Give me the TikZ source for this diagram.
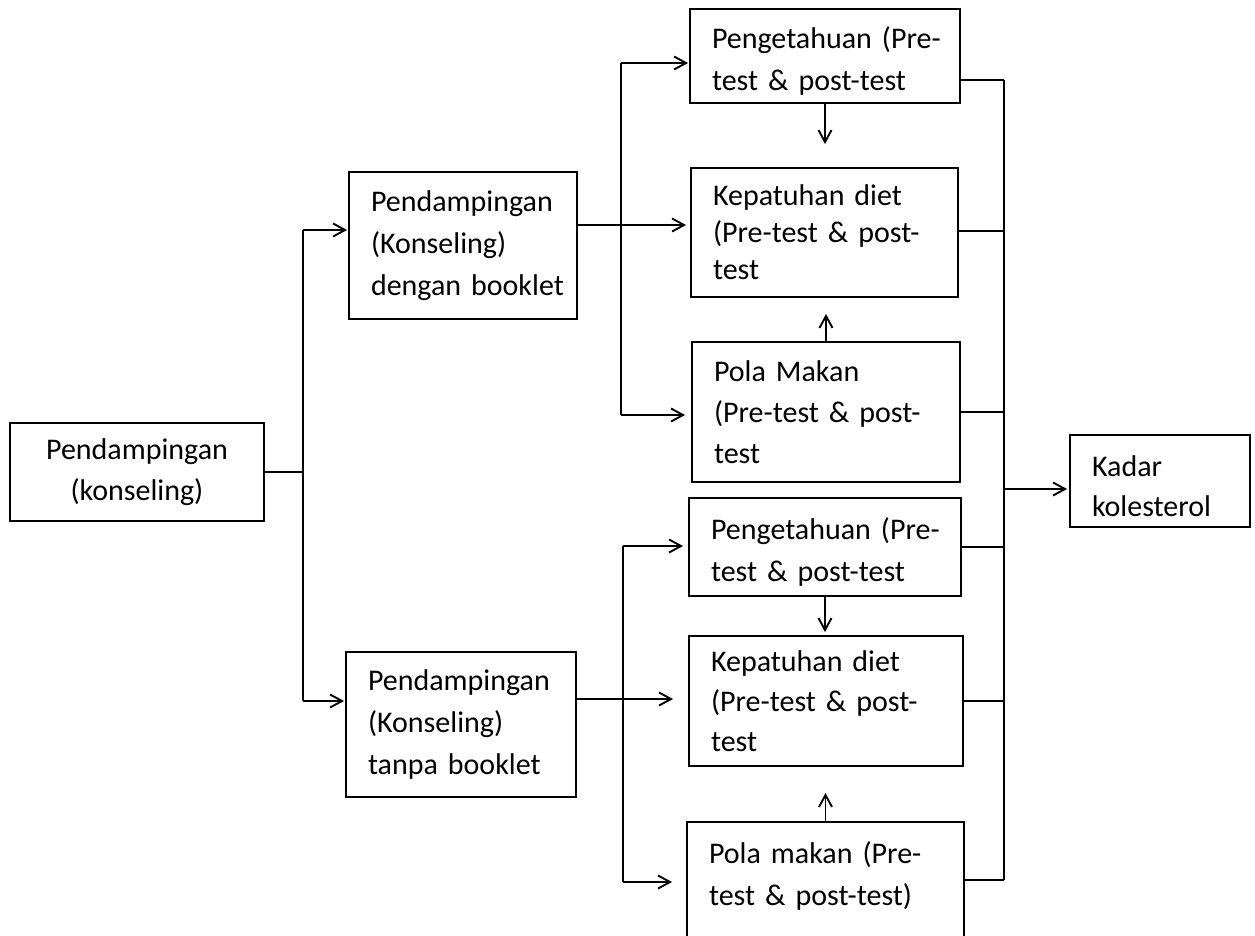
\documentclass[tikz,border=0pt]{standalone}
\usepackage{fontspec}
\setmainfont{Carlito}[WordSpace=0.75]
\usetikzlibrary{arrows.meta}
\newcommand{\topstrut}{\rule{0pt}{32pt}}
\begin{document}
\begin{tikzpicture}[x=1pt,y=-1pt,
  box/.style={draw,line width=1.9pt,inner ysep=0pt,inner xsep=22pt,align=left,
    font=\fontsize{30}{41}\selectfont},
  ln/.style={line width=1.9pt},
  arr/.style={line width=1.9pt,-{Straight Barb[length=12pt,width=13pt,line width=1.9pt]}}]
\useasboundingbox (0,0) rectangle (1255,935);
\clip (0,0) rectangle (1255,935);
% boxes
\node[box,align=center,inner xsep=0pt,text width=254pt,minimum height=98pt] (A) at (137,472) {Pendampingan\\(konseling)};
\node[box,text width=184pt,minimum height=147pt,font=\fontsize{30}{42}\selectfont] (B) at (463,245.5) {\mbox{Pendampingan}\\\mbox{(Konseling)}\\\mbox{dengan booklet}};
\node[box,text width=186pt,minimum height=145pt,font=\fontsize{30}{42}\selectfont] (B2) at (461,724.5) {\mbox{Pendampingan}\\\mbox{(Konseling)}\\\mbox{tanpa booklet}};
\node[box,text width=226pt,minimum height=94pt,font=\fontsize{30}{42}\selectfont] (P1) at (825,56) {\topstrut\mbox{Pengetahuan (Pre-}\\\mbox{test \& post-test}};
\node[box,text width=223pt,minimum height=129pt,font=\fontsize{30}{37}\selectfont] (K1) at (824.5,232.5) {\mbox{Kepatuhan diet}\\\mbox{(Pre-test \& post-}\\\mbox{test}};
\node[box,text width=224pt,minimum height=140pt] (L1) at (826,412) {\mbox{Pola Makan}\\\mbox{(Pre-test \& post-}\\\mbox{test}};
\node[box,text width=228pt,minimum height=98pt,font=\fontsize{30}{42}\selectfont] (P2) at (825,547) {\topstrut\mbox{Pengetahuan (Pre-}\\\mbox{test \& post-test}};
\node[box,text width=230pt,minimum height=130pt,font=\fontsize{30}{40}\selectfont] (K2) at (826,701) {\mbox{Kepatuhan diet}\\\mbox{(Pre-test \& post-}\\\mbox{test}};
\node[box,text width=233pt,minimum height=146pt,font=\fontsize{30}{42}\selectfont] (L2) at (825.5,895) {\mbox{Pola makan (Pre-}\\\mbox{test \& post-test)}\\\mbox{}};
\node[box,text width=136pt,minimum height=92pt,font=\fontsize{30}{40}\selectfont] (KD) at (1160,481) {\topstrut\mbox{Kadar}\\\mbox{kolesterol}};
% left junction
\coordinate (jA) at (303,472);
\coordinate (jAt) at (303,230);
\coordinate (jAb) at (303,701);
\draw[ln] (A.east) -- (jA);
\draw[ln] (jAt) -- (jAb);
\draw[arr,shorten >=1pt] (jAt) -- (jAt -| B.west);
\draw[arr,shorten >=1pt] (jAb) -- (jAb -| B2.west);
% upper branch
\coordinate (bOut) at (577,225);
\coordinate (bT) at (621,63);
\coordinate (bB) at (621,415);
\draw[arr,shorten >=4pt] (bOut) -- (bOut -| K1.west);
\draw[ln] (bT) -- (bB);
\draw[arr,shorten >=1pt] (bT) -- (bT -| P1.west);
\draw[arr,shorten >=6pt] (bB) -- (bB -| L1.west);
% lower branch
\coordinate (b2Out) at (576,699);
\coordinate (b2T) at (623,546);
\coordinate (b2B) at (623,882);
\draw[arr,shorten >=15pt] (b2Out) -- (b2Out -| K2.west);
\draw[ln] (b2T) -- (b2B);
\draw[arr,shorten >=5pt] (b2T) -- (b2T -| P2.west);
\draw[arr,shorten >=14pt] (b2B) -- (b2B -| L2.west);
% vertical arrows between boxes
\draw[arr,shorten >=23pt] (P1.south) -- (P1.south |- K1.north);
\draw[arr,shorten >=16pt] (L1.north) -- (L1.north |- K1.south);
\draw[arr,shorten >=3pt] (P2.south) -- (P2.south |- K2.north);
\draw[arr,shorten >=26pt] (L2.north) -- (L2.north |- K2.south);
% right bus
\coordinate (r1) at (1004,80);
\coordinate (r2) at (1004,231);
\coordinate (r3) at (1004,412);
\coordinate (r4) at (1004,547);
\coordinate (r5) at (1004,701);
\coordinate (r6) at (1004,880);
\coordinate (rK) at (1004,489);
\draw[ln] (P1.east |- r1) -- (r1);
\draw[ln] (K1.east |- r2) -- (r2);
\draw[ln] (L1.east |- r3) -- (r3);
\draw[ln] (P2.east |- r4) -- (r4);
\draw[ln] (K2.east |- r5) -- (r5);
\draw[ln] (L2.east |- r6) -- (r6);
\draw[ln] (r1) -- (r6);
\draw[arr,shorten >=2pt] (rK) -- (rK -| KD.west);
\end{tikzpicture}
\end{document}
